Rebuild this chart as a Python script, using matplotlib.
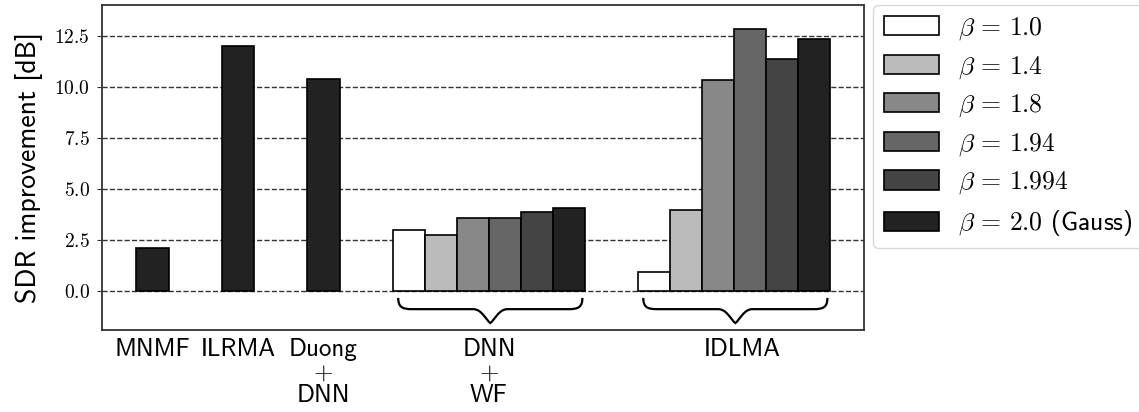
import numpy as np
import matplotlib
matplotlib.use("Agg")
import matplotlib.pyplot as plt
from matplotlib.path import Path
from matplotlib.patches import PathPatch

# values
single_names = ["MNMF", "ILRMA", "Duong\n$+$\nDNN"]
single_vals = [2.12, 12.0, 10.4]
group_names = ["DNN\n$+$\nWF", "IDLMA"]
beta_labels = [r"$\beta\,=\,1.0$", r"$\beta\,=\,1.4$", r"$\beta\,=\,1.8$",
               r"$\beta\,=\,1.94$", r"$\beta\,=\,1.994$", r"$\beta\,=\,2.0$ (Gauss)"]
dnn_wf_vals = [2.98, 2.74, 3.6, 3.6, 3.88, 4.09]
idlma_vals = [0.94, 3.99, 10.32, 12.83, 11.38, 12.31]
yticks = [0.0, 2.5, 5.0, 7.5, 10.0, 12.5]

colors = ["#ffffff", "#bbbbbb", "#888888", "#666666", "#444444", "#222222"]


def brace(ax, x0, x1, yt=-0.33, ym=-0.88, yb=-1.56):
    xc = (x0 + x1) / 2
    d1 = 0.16
    d2 = 0.2
    verts = [
        (x0, yt), (x0, ym + 0.1), (x0 + d1 * 0.3, ym), (x0 + d1, ym),
        (xc - d2, ym),
        (xc - d2 * 0.5, ym), (xc - d2 * 0.25, yb + 0.15), (xc, yb),
        (xc + d2 * 0.25, yb + 0.15), (xc + d2 * 0.5, ym), (xc + d2, ym),
        (x1 - d1, ym),
        (x1 - d1 * 0.3, ym), (x1, ym + 0.1), (x1, yt),
    ]
    codes = [Path.MOVETO, Path.CURVE4, Path.CURVE4, Path.CURVE4,
             Path.LINETO,
             Path.CURVE4, Path.CURVE4, Path.CURVE4,
             Path.CURVE4, Path.CURVE4, Path.CURVE4,
             Path.LINETO,
             Path.CURVE4, Path.CURVE4, Path.CURVE4]
    ax.add_patch(PathPatch(Path(verts, codes), fill=False, lw=1.6,
                           edgecolor="black", zorder=3))


def main():
    plt.rcParams["font.family"] = ["cmss10", "DejaVu Sans"]
    plt.rcParams["mathtext.fontset"] = "cm"
    plt.rcParams["axes.formatter.use_mathtext"] = True

    fig = plt.figure(figsize=(11.39, 4.12), dpi=100)
    ax = fig.add_axes([0.0893, 0.199, 0.6695, 0.789])

    single_x = [0.0, 1.0, 2.0]
    group_c = [3.936, 6.802]
    w = 0.374

    ax.bar(single_x, single_vals, width=0.385, color=colors[-1],
           edgecolor="black", linewidth=1.2, zorder=2)
    for i in range(6):
        off = (i - 2.5) * w
        ax.bar(group_c[0] + off, dnn_wf_vals[i], width=w, color=colors[i],
               edgecolor="black", linewidth=1.2, zorder=2, label=beta_labels[i])
        ax.bar(group_c[1] + off, idlma_vals[i], width=w, color=colors[i],
               edgecolor="black", linewidth=1.2, zorder=2)

    for c in group_c:
        brace(ax, c - 3 * w + 0.06, c + 3 * w - 0.03)

    ax.set_xlim(-0.594, 8.325)
    ax.set_ylim(-1.9, 14.0)
    ax.set_yticks(yticks)
    ax.set_yticklabels([f"${v:.1f}$" for v in yticks], fontsize=14)
    ax.set_xticks(single_x + [group_c[0], group_c[1] + 0.09])
    ax.set_xticklabels(single_names + group_names, fontsize=18,
                       verticalalignment="top", linespacing=1.0)
    ax.tick_params(axis="x", length=0, pad=6)
    ax.tick_params(axis="y", length=3.5, pad=5, color="#333333")
    ax.set_ylabel("SDR improvement [dB]", fontsize=20, labelpad=8)
    ax.yaxis.grid(True, linestyle="--", color="#333333", linewidth=1.0, zorder=0)
    ax.set_axisbelow(True)
    for s in ax.spines.values():
        s.set_color("#333333")
        s.set_linewidth(1.3)

    ax.legend(loc="upper left", bbox_to_anchor=(1.012, 1.0), borderaxespad=0,
              fontsize=18.5, handlelength=2.15, handleheight=0.77,
              handletextpad=0.75, labelspacing=0.46, borderpad=0.4)

    fig.savefig("out.png", dpi=100)


if __name__ == "__main__":
    main()
